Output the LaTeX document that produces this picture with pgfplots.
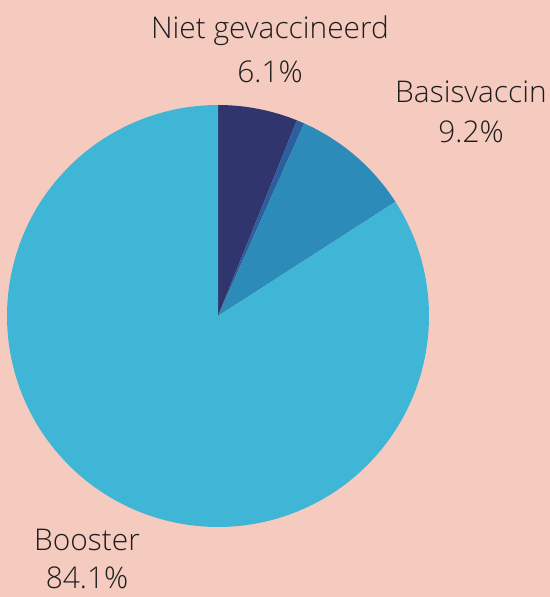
\documentclass[border=0pt]{standalone}
\usepackage{pgfplots}
\pgfplotsset{compat=1.18}
\usepackage{pgfplotstable}
\usepackage{fontspec}
\IfFontExistsTF{Open Sans Light}{\setmainfont{Open Sans Light}}{\setmainfont{Open Sans}}
\definecolor{bg}{HTML}{F5CBBF}
\definecolor{cNiet}{HTML}{31356E}
\definecolor{cTus}{HTML}{2C5F9E}
\definecolor{cBasis}{HTML}{2D8BBA}
\definecolor{cBoost}{HTML}{3FB6D6}
\definecolor{txt}{HTML}{1E1E1E}

\pgfplotstableread{
label value
Niet 6.1
Tussen 0.6
Basis 9.2
Booster 84.1
}\piedata

\pgfplotstablegetelem{0}{value}\of\piedata \let\vA\pgfplotsretval
\pgfplotstablegetelem{1}{value}\of\piedata \let\vB\pgfplotsretval
\pgfplotstablegetelem{2}{value}\of\piedata \let\vC\pgfplotsretval
\pgfplotstablegetelem{3}{value}\of\piedata \let\vD\pgfplotsretval
\pgfmathsetmacro\aA{90}
\pgfmathsetmacro\aB{\aA-3.6*\vA}
\pgfmathsetmacro\aC{\aB-3.6*\vB}
\pgfmathsetmacro\aD{\aC-3.6*\vC}
\pgfmathsetmacro\aE{\aD-3.6*\vD}

\def\cx{218}
\def\cy{281}
\def\R{211}

\begin{document}
\begin{tikzpicture}
\fill[bg] (0,0) rectangle (550bp,597bp);
\begin{axis}[at={(0,0)}, anchor=south west, scale only axis,
  width=550bp, height=597bp, xmin=0, xmax=550, ymin=0, ymax=597,
  hide axis, clip=false]
\addplot[fill=cNiet, draw=none, domain=\aB:\aA, samples=30, variable=\t]
  ({\cx+\R*cos(t)},{\cy+\R*sin(t)}) -- (axis cs:\cx,\cy) -- cycle;
\addplot[fill=cTus, draw=none, domain=\aC:\aB, samples=5, variable=\t]
  ({\cx+\R*cos(t)},{\cy+\R*sin(t)}) -- (axis cs:\cx,\cy) -- cycle;
\addplot[fill=cBasis, draw=none, domain=\aD:\aC, samples=40, variable=\t]
  ({\cx+\R*cos(t)},{\cy+\R*sin(t)}) -- (axis cs:\cx,\cy) -- cycle;
\addplot[fill=cBoost, draw=none, domain=\aE:\aD, samples=200, variable=\t]
  ({\cx+\R*cos(t)},{\cy+\R*sin(t)}) -- (axis cs:\cx,\cy) -- cycle;

\tikzset{lbl/.style={txt, inner sep=0pt, font=\fontsize{30}{34}\selectfont}}
\node[lbl] at (axis cs:270,566) {Niet gevaccineerd};
\node[lbl] at (axis cs:270,525) {6.1\%};
\node[lbl] at (axis cs:471,505) {Basisvaccin};
\node[lbl] at (axis cs:471,465) {9.2\%};
\node[lbl] at (axis cs:87,57) {Booster};
\node[lbl] at (axis cs:87,19) {84.1\%};
\end{axis}
\end{tikzpicture}
\end{document}
